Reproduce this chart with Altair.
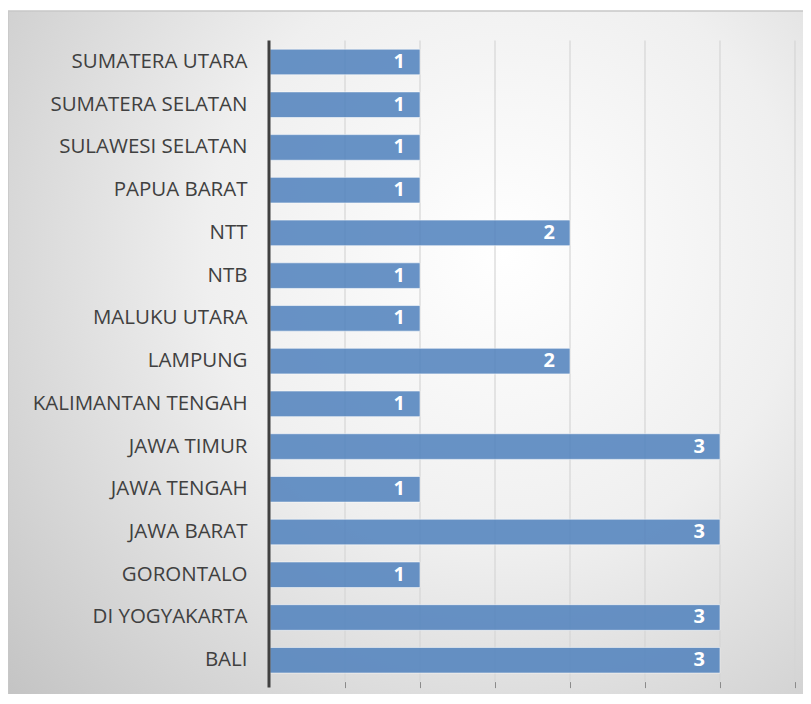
import altair as alt
import pandas as pd

provinces = ["SUMATERA UTARA", "SUMATERA SELATAN", "SULAWESI SELATAN", "PAPUA BARAT",
             "NTT", "NTB", "MALUKU UTARA", "LAMPUNG", "KALIMANTAN TENGAH", "JAWA TIMUR",
             "JAWA TENGAH", "JAWA BARAT", "GORONTALO", "DI YOGYAKARTA", "BALI"]
counts = [1, 1, 1, 1, 2, 1, 1, 2, 1, 3, 1, 3, 1, 3, 3]
grid_values = [0.5, 1, 1.5, 2, 2.5, 3, 3.5]

df = pd.DataFrame({"prov": provinces, "n": counts})
gdf = pd.DataFrame({"g": grid_values})

W, H = 525, 641
PL, PT = 262, 32.6

bg = alt.Chart(pd.DataFrame({"a": [0]})).mark_rect(
    fill=alt.RadialGradient(
        gradient="radial", x1=0.6, y1=0.35, r1=0.0, x2=0.6, y2=0.35, r2=0.8,
        stops=[alt.GradientStop(offset=0, color="#ffffff"),
               alt.GradientStop(offset=0.45, color="#efefef"),
               alt.GradientStop(offset=1, color="#c4c4c4")]),
    stroke="#c8c8c8", strokeWidth=1.5
).encode(
    x=alt.value(-PL), x2=alt.value(W + 40),
    y=alt.value(-PT + 3), y2=alt.value(H + 60)
)

yscale = alt.Scale(domain=provinces, paddingInner=0.4, paddingOuter=0.2)
xscale = alt.Scale(domain=[0, 3.5], nice=False)

grid = alt.Chart(gdf).mark_rule(color="#d5d5d5", strokeWidth=1.2).encode(
    x=alt.X("g:Q", scale=xscale),
    y=alt.value(0), y2=alt.value(H)
)

bars = alt.Chart(df).mark_bar(
    color="#4f81bd", opacity=0.85, stroke="#ffffff", strokeOpacity=0.6, strokeWidth=1
).encode(
    y=alt.Y("prov:N", sort=None, scale=yscale,
            axis=alt.Axis(title=None, labelFont="Open Sans", labelFontSize=20.5, labelColor="#404040",
                          labelPadding=23, labelLimit=400, ticks=False, domain=False,
                          grid=False, zindex=1)),
    x=alt.X("n:Q", scale=xscale,
            axis=alt.Axis(title=None, labels=False, values=grid_values,
                          domain=False, tickSize=6, tickColor="#8a8a8a", grid=False, zindex=1))
)

text = alt.Chart(df).mark_text(
    align="right", baseline="middle", dx=-15, color="white", font="Open Sans",
    fontSize=20, fontWeight="bold"
).encode(
    y=alt.Y("prov:N", sort=None, scale=yscale),
    x=alt.X("n:Q", scale=xscale),
    text="n:Q"
)

axisline = alt.Chart(pd.DataFrame({"a": [0]})).mark_rule(color="#404040", strokeWidth=3).encode(
    x=alt.value(-1), y=alt.value(0), y2=alt.value(H + 6)
)

chart = alt.layer(bg, grid, bars, text, axisline).properties(
    width=W, height=H,
    autosize=alt.AutoSizeParams(type="none"),
    padding={"left": PL, "top": PT, "right": 8, "bottom": 12}
).configure_view(stroke=None)

chart.save("out.html", embed_options={"renderer": "svg", "actions": False})
